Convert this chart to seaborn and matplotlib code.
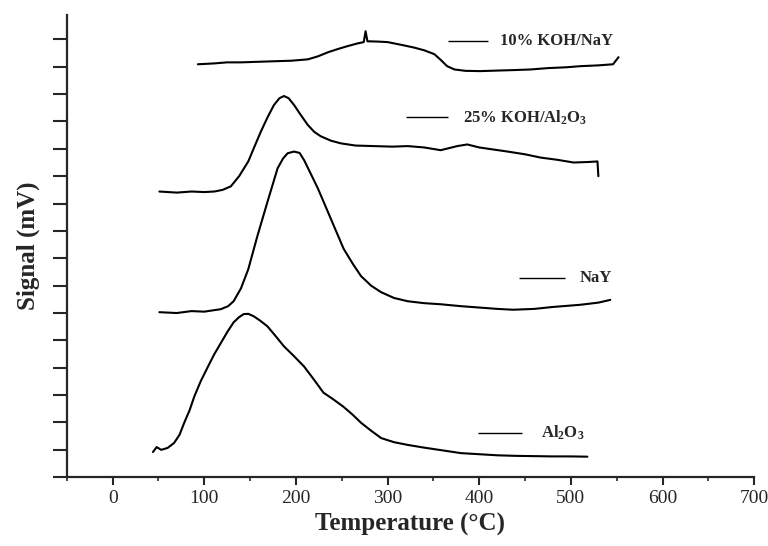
import numpy as np
import pandas as pd
import matplotlib
matplotlib.use("Agg")
import matplotlib.pyplot as plt
import seaborn as sns

# TPR-like traces (temperature in C, signal in tick units)
al2o3_t = [44, 48, 53, 60, 67, 73, 78, 84, 89, 96, 104, 111, 118, 125, 132, 138, 143, 148, 154,
           161, 169, 178, 187, 198, 209, 220, 230, 241, 252, 262, 271, 282, 293, 307, 322,
           340, 358, 380, 400, 420, 440, 460, 480, 500, 518]
al2o3_y = [0.92, 1.10, 1.00, 1.07, 1.25, 1.55, 1.98, 2.45, 2.94, 3.50, 4.04, 4.50, 4.90, 5.30,
           5.66, 5.85, 5.96, 5.97, 5.88, 5.72, 5.51, 5.15, 4.78, 4.42, 4.04, 3.55, 3.09, 2.84,
           2.57, 2.28, 1.99, 1.70, 1.43, 1.28, 1.18, 1.08, 0.99, 0.88, 0.84, 0.80, 0.78, 0.77,
           0.76, 0.76, 0.75]

nay_t = [51, 70, 86, 100, 118, 126, 132, 140, 148, 158, 169, 180, 186, 191, 198, 204, 209,
         216, 224, 238, 252, 262, 271, 282, 293, 307, 322, 340, 358, 380, 400, 420, 437,
         460, 480, 510, 530, 543]
nay_y = [6.03, 6.00, 6.07, 6.05, 6.14, 6.25, 6.43, 6.90, 7.60, 8.82, 10.07, 11.29, 11.65,
         11.84, 11.90, 11.85, 11.58, 11.10, 10.55, 9.45, 8.35, 7.80, 7.35, 7.00, 6.76, 6.55,
         6.43, 6.36, 6.32, 6.25, 6.20, 6.15, 6.12, 6.15, 6.22, 6.30, 6.38, 6.48]

koh_al_t = [51, 70, 86, 100, 111, 120, 129, 138, 148, 155, 162, 169, 176, 182, 187, 192, 198,
            205, 213, 220, 227, 238, 249, 265, 285, 305, 322, 340, 358, 376, 387, 400, 431,
            450, 467, 485, 503, 520, 529, 530]
koh_al_y = [10.44, 10.40, 10.44, 10.42, 10.44, 10.50, 10.63, 11.00, 11.54, 12.10, 12.65, 13.15,
            13.60, 13.85, 13.93, 13.85, 13.60, 13.25, 12.87, 12.62, 12.46, 12.30, 12.20, 12.12,
            12.10, 12.08, 12.10, 12.05, 11.95, 12.10, 12.16, 12.05, 11.90, 11.80, 11.68, 11.60,
            11.50, 11.52, 11.54, 11.00]

koh_nay_t = [93, 110, 125, 140, 158, 176, 195, 213, 224, 235, 246, 256, 267, 274, 276, 278,
             289, 300, 315, 329, 340, 351, 358, 365, 373, 385, 401, 420, 440, 456, 475, 495,
             510, 530, 546, 552]
koh_nay_y = [15.09, 15.12, 15.16, 15.16, 15.18, 15.20, 15.22, 15.27, 15.38, 15.53, 15.65, 15.75,
             15.85, 15.90, 16.30, 15.93, 15.92, 15.90, 15.80, 15.70, 15.60, 15.46, 15.25, 15.02,
             14.90, 14.85, 14.84, 14.86, 14.88, 14.90, 14.95, 14.98, 15.02, 15.05, 15.09, 15.35]

sample_names = ["Al$_2$O$_3$", "NaY", "25% KOH/Al$_2$O$_3$", "10% KOH/NaY"]

frames = []
for name, t, y in zip(sample_names,
                      [al2o3_t, nay_t, koh_al_t, koh_nay_t],
                      [al2o3_y, nay_y, koh_al_y, koh_nay_y]):
    frames.append(pd.DataFrame({"sample": name, "temp": t, "signal": y,
                                "order": np.arange(len(t))}))
df = pd.concat(frames, ignore_index=True)

sns.set_theme(style="ticks")
plt.rcParams["font.family"] = ["Liberation Serif", "DejaVu Serif"]
plt.rcParams["mathtext.fontset"] = "custom"
plt.rcParams["mathtext.rm"] = "Liberation Serif:bold"
plt.rcParams["mathtext.it"] = "Liberation Serif:bold"
plt.rcParams["mathtext.bf"] = "Liberation Serif:bold"

fig = plt.figure(figsize=(7.68, 5.46), dpi=100)
ax = fig.add_axes([0.087, 0.126, 0.895, 0.847])

sns.lineplot(data=df, x="temp", y="signal", units="sample", estimator=None,
             sort=False, color="black", lw=1.5, ax=ax, legend=False)

ax.set_xlim(-50, 700)
ax.set_ylim(0, 16.9)
ax.set_xticks(np.arange(0, 701, 100))
ax.set_xticks(np.arange(-50, 701, 50), minor=True)
ax.set_yticks(np.arange(0, 17, 1))
ax.set_yticklabels([])
ax.tick_params(axis="x", which="major", length=6, width=1.5, labelsize=14, direction="out")
ax.tick_params(axis="x", which="minor", length=3, width=1.2, direction="out")
ax.tick_params(axis="y", which="major", length=10, width=1.5, direction="out")
for s in ["left", "bottom"]:
    ax.spines[s].set_linewidth(1.6)
sns.despine(ax=ax)

ax.set_xlabel("Temperature (°C)", fontsize=18, fontweight="bold", labelpad=4)
ax.set_ylabel("Signal (mV)", fontsize=18, fontweight="bold", labelpad=6)

# curve labels with a short key line, like the original figure
labels = [("10% KOH/NaY", 366, 410, 423, 15.93),
          ("25% KOH/Al$_2$O$_3$", 320, 366, 382, 13.15),
          ("NaY", 443, 494, 510, 7.29),
          ("Al$_2$O$_3$", 399, 447, 467, 1.61)]
for text, x0, x1, xt, yl in labels:
    ax.hlines(yl, x0, x1, color="black", lw=1.0)
    ax.text(xt, yl, text, fontsize=12, fontweight="bold", va="center", ha="left")

fig.savefig("out.png", dpi=100)
